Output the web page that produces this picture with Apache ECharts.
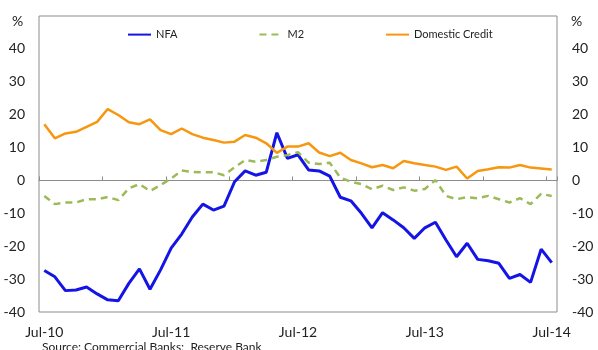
<!DOCTYPE html>
<html>
<head>
<meta charset="utf-8">
<script src="https://cdn.jsdelivr.net/npm/echarts@6/dist/echarts.min.js"></script>
<style>
  html, body { margin: 0; padding: 0; background: #fff; }
  #chart { width: 598px; height: 350px; }
</style>
</head>
<body>
<div id="chart"></div>
<script>
const months = [
  'Jul-10', 'Aug-10', 'Sep-10', 'Oct-10', 'Nov-10', 'Dec-10',
  'Jan-11', 'Feb-11', 'Mar-11', 'Apr-11', 'May-11', 'Jun-11',
  'Jul-11', 'Aug-11', 'Sep-11', 'Oct-11', 'Nov-11', 'Dec-11',
  'Jan-12', 'Feb-12', 'Mar-12', 'Apr-12', 'May-12', 'Jun-12',
  'Jul-12', 'Aug-12', 'Sep-12', 'Oct-12', 'Nov-12', 'Dec-12',
  'Jan-13', 'Feb-13', 'Mar-13', 'Apr-13', 'May-13', 'Jun-13',
  'Jul-13', 'Aug-13', 'Sep-13', 'Oct-13', 'Nov-13', 'Dec-13',
  'Jan-14', 'Feb-14', 'Mar-14', 'Apr-14', 'May-14', 'Jun-14',
  'Jul-14'
]

const nfa = [
  -27.4, -29.3, -33.5, -33.3, -32.4, -34.5, -36.3, -36.6, -31.3, -26.9, -33.1, -27.2,
  -20.6, -16.3, -11.1, -7.2, -9.0, -7.8, -0.4, 2.9, 1.6, 2.5, 14.5, 6.7,
  7.8, 3.2, 2.9, 1.3, -5.1, -6.2, -10.0, -14.4, -9.8, -12.0, -14.4, -17.6,
  -14.4, -12.7, -18.1, -23.2, -19.1, -24.0, -24.4, -25.2, -29.8, -28.6, -31.0, -20.9,
  -25.0
]

const m2 = [
  -4.7, -7.2, -6.7, -6.7, -5.7, -5.7, -5.0, -6.0, -2.4, -1.1, -3.2, -1.4,
  0.6, 3.0, 2.6, 2.5, 2.5, 1.6, 4.0, 6.2, 5.7, 6.2, 7.2, 7.7,
  8.6, 5.4, 5.0, 5.4, 0.9, -0.4, -1.1, -2.7, -1.6, -2.9, -2.1, -3.1,
  -2.6, 0.1, -4.7, -5.7, -5.1, -5.4, -4.7, -5.7, -6.7, -5.4, -7.2, -4.1,
  -4.7
]

const domesticCredit = [
  17.1, 12.8, 14.3, 14.8, 16.3, 17.8, 21.7, 19.9, 17.7, 17.1, 18.6, 15.3,
  14.1, 15.8, 14.1, 13.0, 12.3, 11.5, 11.8, 13.8, 13.0, 11.3, 8.4, 10.3,
  10.3, 11.3, 8.5, 7.4, 8.4, 6.2, 5.2, 4.0, 4.7, 3.7, 5.9, 5.2,
  4.7, 4.2, 3.2, 4.2, 0.6, 2.9, 3.4, 4.0, 3.9, 4.7, 3.9, 3.6,
  3.3
]

const yMin = -40
const yMax = 50
const yStep = 10

const font = 'Lato, "DejaVu Sans", sans-serif'
const frameColor = '#8c8c8c'

const chart = echarts.init(document.getElementById('chart'), null, { renderer: 'canvas' })

const yAxisBase = {
  type: 'value',
  min: yMin,
  max: yMax,
  interval: yStep,
  axisLine: { show: false },
  axisTick: { show: false },
  splitLine: { show: false },
  axisLabel: {
    color: '#222',
    fontFamily: font,
    fontSize: 14,
    // top of the scale carries no number, the "%" sits there instead
    formatter: v => (v === yMax ? '' : String(v))
  }
}

chart.setOption({
  animation: false,
  grid: {
    left: 39,
    right: 41,
    top: 16,
    bottom: 38,
    show: true,
    borderColor: frameColor,
    borderWidth: 1,
    backgroundColor: 'transparent'
  },
  legend: {
    top: 24,
    left: 122,
    itemWidth: 23,
    itemHeight: 14,
    itemGap: 81,
    itemStyle: { opacity: 0 },
    textStyle: { fontFamily: font, fontSize: 11, color: '#222' },
    data: ['NFA', 'M2', 'Domestic Credit']
  },
  xAxis: [
    {
      // labels along the bottom
      type: 'category',
      data: months,
      boundaryGap: true,
      position: 'bottom',
      axisLine: { show: false, onZero: false },
      axisTick: { show: false },
      axisLabel: {
        interval: 11,
        margin: 13,
        color: '#222',
        fontFamily: font,
        fontSize: 14
      },
      splitLine: { show: false }
    },
    {
      // zero line with half-year ticks
      type: 'category',
      data: months,
      boundaryGap: true,
      position: 'bottom',
      axisLine: { show: true, onZero: true, onZeroAxisIndex: 0, lineStyle: { color: frameColor, width: 1 } },
      axisTick: { show: true, interval: 5, inside: true, length: 4, lineStyle: { color: frameColor } },
      axisLabel: { show: false },
      splitLine: { show: false }
    }
  ],
  yAxis: [
    Object.assign({}, yAxisBase, { position: 'left', axisLabel: Object.assign({}, yAxisBase.axisLabel, { margin: 14 }) }),
    Object.assign({}, yAxisBase, { position: 'right', axisLabel: Object.assign({}, yAxisBase.axisLabel, { margin: 15 }) })
  ],
  graphic: [
    { type: 'text', left: 12, top: 14, style: { text: '%', font: '14px ' + font, fill: '#222' } },
    { type: 'text', left: 571, top: 14, style: { text: '%', font: '14px ' + font, fill: '#222' } },
    { type: 'text', left: 42, top: 341, style: { text: 'Source: Commercial Banks;  Reserve Bank', font: '12px ' + font, fill: '#222' } }
  ],
  series: [
    {
      name: 'NFA',
      type: 'line',
      xAxisIndex: 0,
      yAxisIndex: 0,
      data: nfa,
      symbol: 'none',
      lineStyle: { color: '#1414e6', width: 3 },
      itemStyle: { color: '#1414e6' }
    },
    {
      name: 'M2',
      type: 'line',
      xAxisIndex: 0,
      yAxisIndex: 0,
      data: m2,
      symbol: 'none',
      lineStyle: { color: '#9bbb59', width: 2.5, type: [7, 5] },
      itemStyle: { color: '#9bbb59' }
    },
    {
      name: 'Domestic Credit',
      type: 'line',
      xAxisIndex: 0,
      yAxisIndex: 0,
      data: domesticCredit,
      symbol: 'none',
      lineStyle: { color: '#f7960f', width: 2.5 },
      itemStyle: { color: '#f7960f' }
    }
  ]
})
</script>
</body>
</html>
